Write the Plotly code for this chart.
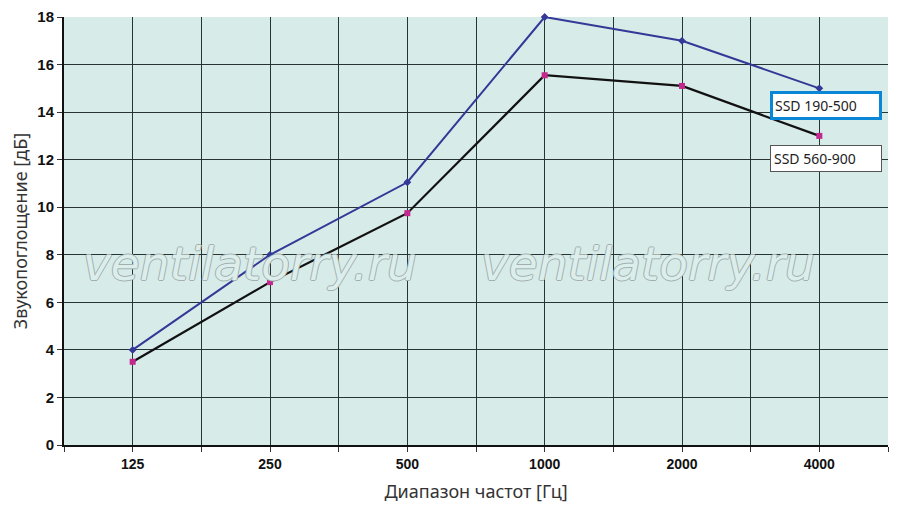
import plotly.graph_objects as go

# frequency bands, Hz
categories = ['125', '250', '500', '1000', '2000', '4000']
ssd_190_500 = [4.0, 8.0, 11.05, 18.0, 17.0, 15.0]
ssd_560_900 = [3.5, 6.85, 9.75, 15.55, 15.1, 13.0]
y_ticks = [0, 2, 4, 6, 8, 10, 12, 14, 16, 18]

xpos = list(range(len(categories)))

# gridlines sit on every category and halfway between them
tickvals = []
ticktext = []
for i, c in enumerate(categories):
    tickvals += [i - 0.5, i]
    ticktext += ['', c]
tickvals.append(len(categories) - 0.5)
ticktext.append('')

fig = go.Figure()
fig.add_trace(go.Scatter(
    x=xpos, y=ssd_560_900, mode='lines+markers', name='SSD 560-900',
    line=dict(color='#111111', width=2.2),
    marker=dict(symbol='square', size=6, color='#c2288e'),
    cliponaxis=False,
))
fig.add_trace(go.Scatter(
    x=xpos, y=ssd_190_500, mode='lines+markers', name='SSD 190-500',
    line=dict(color='#343896', width=2),
    marker=dict(symbol='diamond', size=6, color='#343896'),
    cliponaxis=False,
))

# watermark
for wx in [0.226, 0.709]:
    fig.add_annotation(
        text='ventilatorry.ru', xref='paper', yref='paper', x=wx, y=0.425,
        xanchor='center', yanchor='middle', showarrow=False,
        font=dict(family='DejaVu Sans', size=47, style='italic', color='#dbeeec',
                  shadow='1px 0 0 #a3afad, -1px 0 0 #a3afad, 0 1px 0 #a3afad, 0 -1px 0 #a3afad'),
    )

fig.add_annotation(
    text='SSD 190-500', x=5.05, y=14.28, showarrow=False,
    font=dict(family='Noto Sans', size=14, color='#222222'),
    bgcolor='white', bordercolor='#0a86d6', borderwidth=3, borderpad=2,
    width=102, align='left',
)
fig.add_annotation(
    text='SSD 560-900', x=5.05, y=12.07, showarrow=False,
    font=dict(family='Noto Sans', size=14, color='#222222'),
    bgcolor='white', bordercolor='#555555', borderwidth=1, borderpad=3,
    width=104, align='left',
)

# page body adds an 8px offset, margins account for it
fig.update_layout(
    width=900, height=525,
    margin=dict(l=56, r=20, t=9, b=88),
    paper_bgcolor='white',
    plot_bgcolor='#d7ebe9',
    showlegend=False,
    xaxis=dict(
        range=[-0.5, len(categories) - 0.5],
        tickvals=tickvals, ticktext=ticktext,
        showgrid=True, gridcolor='#263533', gridwidth=1.4,
        ticks='outside', ticklen=5, tickcolor='#333333',
        showline=True, linecolor='#111111', linewidth=2,
        tickfont=dict(family='Liberation Sans', size=14, color='#111111', weight='bold'),
        title=dict(text='Диапазон частот [Гц]',
                   font=dict(family='Noto Sans', size=18, color='#333333')),
        zeroline=False, automargin=False,
    ),
    yaxis=dict(
        range=[0, 18],
        tickvals=y_ticks,
        showgrid=True, gridcolor='#263533', gridwidth=1.4,
        ticks='outside', ticklen=5, tickcolor='#333333',
        showline=True, linecolor='#111111', linewidth=2,
        tickfont=dict(family='Liberation Sans', size=15, color='#111111', weight='bold'),
        title=dict(text='Звукопоглощение [дБ]',
                   font=dict(family='Noto Sans', size=18, color='#333333')),
        zeroline=False, automargin=False,
    ),
)

fig.write_html('out.html')
